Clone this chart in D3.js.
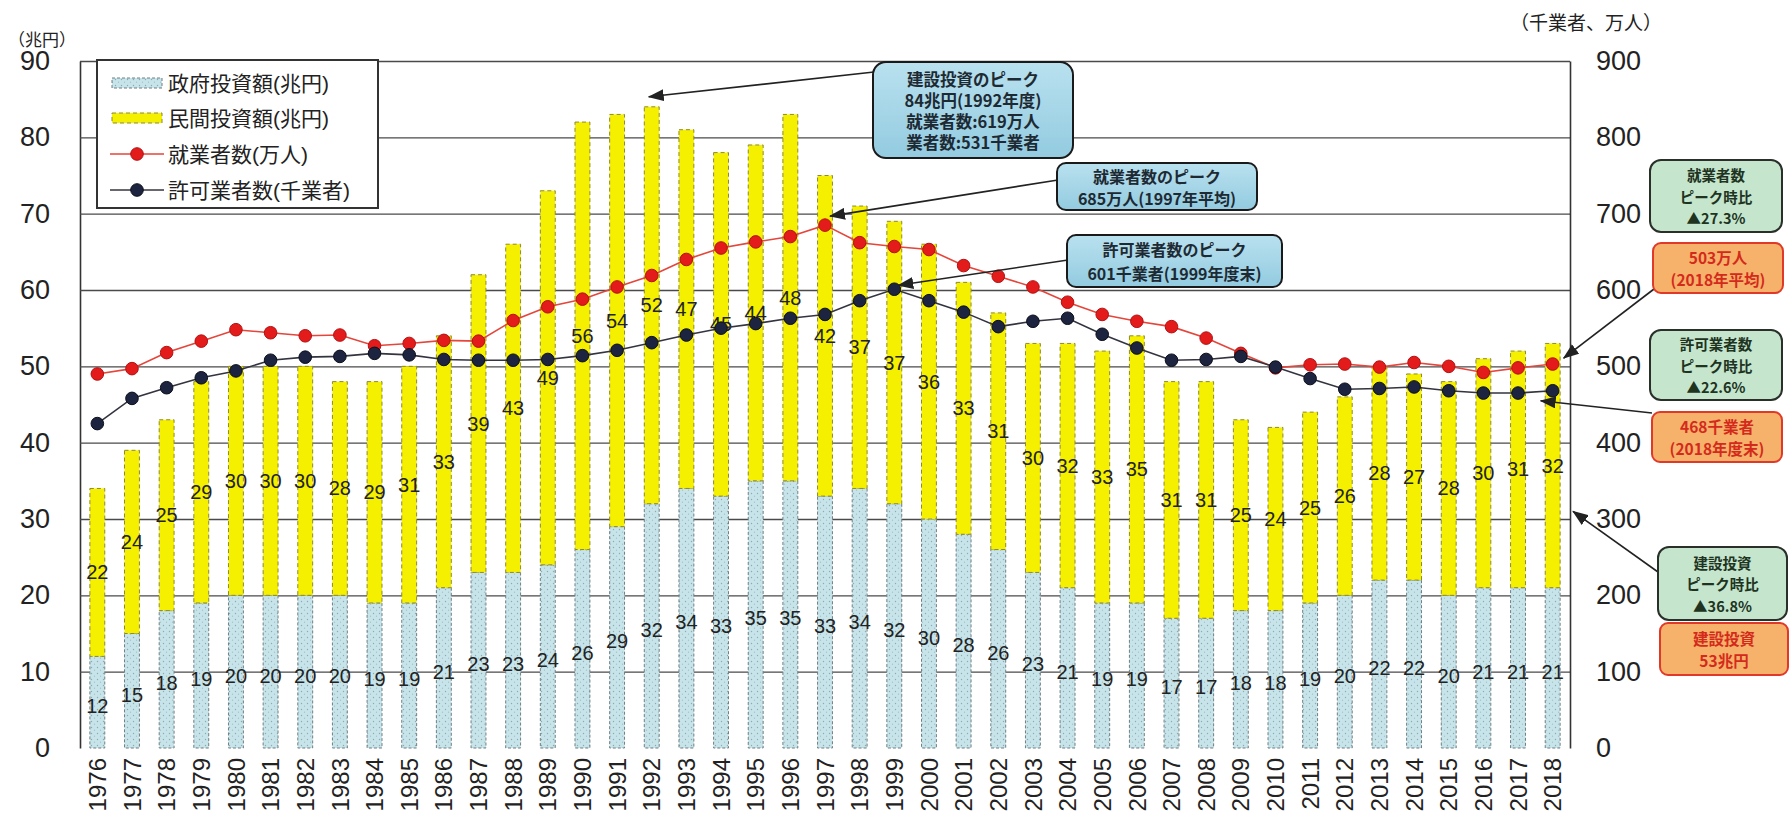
<!DOCTYPE html>
<html><head><meta charset="utf-8">
<script src="https://cdnjs.cloudflare.com/ajax/libs/d3/7.8.5/d3.min.js"></script>
<style>
body{margin:0;background:#fff;}
svg{display:block;font-family:"Liberation Sans","Noto Sans CJK JP",sans-serif;}
</style></head><body>
<svg id="chart" width="1789" height="821"></svg>
<script>
// ---------- data ----------
const years = ["1976","1977","1978","1979","1980","1981","1982","1983","1984","1985","1986","1987","1988","1989","1990","1991","1992","1993","1994","1995","1996","1997","1998","1999","2000","2001","2002","2003","2004","2005","2006","2007","2008","2009","2010","2011","2012","2013","2014","2015","2016","2017","2018"];
const govInvest  = [12,15,18,19,20,20,20,20,19,19,21,23,23,24,26,29,32,34,33,35,35,33,34,32,30,28,26,23,21,19,19,17,17,18,18,19,20,22,22,20,21,21,21];
const privInvest = [22,24,25,29,30,30,30,28,29,31,33,39,43,49,56,54,52,47,45,44,48,42,37,37,36,33,31,30,32,33,35,31,31,25,24,25,26,28,27,28,30,31,32];
const workers    = [490,497,518,533,548,544,540,541,527,530,534,533,560,578,588,604,619,640,655,663,670,685,662,657,653,632,618,604,584,568,559,552,537,517,498,502,503,499,505,500,492,498,503];
const licensed   = [425,458,472,485,494,508,512,513,517,515,509,508,508,509,514,521,531,541,550,556,563,568,586,601,586,571,552,559,563,542,524,508,509,513,499,484,470,471,473,468,465,465,468];
const leftTicks  = [0,10,20,30,40,50,60,70,80,90];
const rightTicks = [0,100,200,300,400,500,600,700,800,900];
const seriesNames = ["政府投資額(兆円)","民間投資額(兆円)","就業者数(万人)","許可業者数(千業者)"];
const leftUnit = "（兆円）";
const rightUnit = "（千業者、万人）";

// ---------- layout ----------
const L = 80, R = 1570, TOP = 61, BOT = 748;
const svg = d3.select("#chart");
const x = d3.scaleBand().domain(years).range([L, R]).paddingInner(0.57).paddingOuter(0.285);
const yL = d3.scaleLinear().domain([0, 90]).range([BOT, TOP]);
const yR = d3.scaleLinear().domain([0, 900]).range([BOT, TOP]);
const cx = d => x(d) + x.bandwidth() / 2;

const defs = svg.append("defs");
const pat = defs.append("pattern").attr("id","govPat").attr("width",6).attr("height",6).attr("patternUnits","userSpaceOnUse");
pat.append("rect").attr("width",6).attr("height",6).attr("fill","#c6e4ea");
pat.append("circle").attr("cx",1.5).attr("cy",1.5).attr("r",0.7).attr("fill","#8fa9ad");
pat.append("circle").attr("cx",4.5).attr("cy",4.2).attr("r",0.6).attr("fill","#a3bcbf");
const grad = defs.append("linearGradient").attr("id","calloutGrad").attr("x1",0).attr("y1",0).attr("x2",0).attr("y2",1);
grad.append("stop").attr("offset","0%").attr("stop-color","#b9e1ef");
grad.append("stop").attr("offset","100%").attr("stop-color","#93cbe0");
defs.append("marker").attr("id","arrow").attr("viewBox","0 0 16 12").attr("refX",15).attr("refY",6)
  .attr("markerWidth",16).attr("markerHeight",12).attr("markerUnits","userSpaceOnUse").attr("orient","auto")
  .append("path").attr("d","M0,0 L16,6 L0,12 z").attr("fill","#222");

// ---------- axes / grid ----------
const gL = svg.append("g").attr("transform",`translate(${L},0)`)
  .call(d3.axisLeft(yL).tickValues(leftTicks).tickSize(-(R-L)).tickSizeOuter(0).tickPadding(30));
gL.select(".domain").attr("stroke","#333").attr("stroke-width",1.6);
gL.selectAll(".tick line").attr("stroke","#4a4a4a").attr("stroke-width",1.3)
  .attr("display", d => d === 0 ? "none" : null);
gL.selectAll(".tick text").attr("font-size",27).attr("fill","#222").attr("font-family","Liberation Sans, Arial, sans-serif");

const gR = svg.append("g").attr("transform",`translate(${R},0)`)
  .call(d3.axisRight(yR).tickValues(rightTicks).tickSize(0).tickSizeOuter(0).tickPadding(26));
gR.select(".domain").attr("stroke","#333").attr("stroke-width",1.6);
gR.selectAll(".tick text").attr("font-size",27).attr("fill","#222").attr("font-family","Liberation Sans, Arial, sans-serif");

const gB = svg.append("g").attr("transform",`translate(0,${BOT})`)
  .call(d3.axisBottom(x).tickSize(0));
gB.select(".domain").remove();
gB.selectAll(".tick text").attr("font-size",24).attr("fill","#222")
  .attr("text-anchor","end").attr("transform","rotate(-90)")
  .attr("x",-10).attr("y",0).attr("dy","0.36em");

svg.append("text").attr("x",8).attr("y",40).attr("font-size",17).attr("fill","#222")
  .attr("dominant-baseline","central").text(leftUnit);
svg.append("text").attr("x",1510).attr("y",23).attr("font-size",19).attr("fill","#222")
  .attr("dominant-baseline","central").text(rightUnit);

// ---------- bars ----------
const bars = svg.append("g");
bars.selectAll("rect.gov").data(years).join("rect").attr("class","gov")
  .attr("x", d => x(d)).attr("width", x.bandwidth())
  .attr("y", (d,i) => yL(govInvest[i])).attr("height", (d,i) => yL(0) - yL(govInvest[i]))
  .attr("fill","url(#govPat)").attr("stroke","#6f7f83").attr("stroke-width",1).attr("stroke-dasharray","3,2");
bars.selectAll("rect.priv").data(years).join("rect").attr("class","priv")
  .attr("x", d => x(d)).attr("width", x.bandwidth())
  .attr("y", (d,i) => yL(govInvest[i] + privInvest[i])).attr("height", (d,i) => yL(govInvest[i]) - yL(govInvest[i] + privInvest[i]))
  .attr("fill","#f5ef00").attr("stroke","#8d8a2c").attr("stroke-width",1).attr("stroke-dasharray","4,3");

// bar labels
const lab = svg.append("g").attr("font-size",20).attr("fill","#222").attr("text-anchor","middle")
  .attr("font-family","Liberation Sans, Arial, sans-serif");
lab.selectAll("text.g").data(years).join("text").attr("class","g")
  .attr("x", d => cx(d)).attr("y", (d,i) => yL(govInvest[i] / 2) + 4).attr("dy","0.35em")
  .text((d,i) => govInvest[i]);
lab.selectAll("text.p").data(years).join("text").attr("class","p")
  .attr("x", d => cx(d)).attr("y", (d,i) => yL(govInvest[i] + privInvest[i] / 2)).attr("dy","0.35em")
  .text((d,i) => privInvest[i]);

// ---------- lines ----------
const lineW = d3.line().x((d,i) => cx(years[i])).y(d => yR(d));
svg.append("path").datum(workers).attr("d", lineW).attr("fill","none").attr("stroke","#e5453a").attr("stroke-width",1.6);
svg.append("path").datum(licensed).attr("d", lineW).attr("fill","none").attr("stroke","#33343f").attr("stroke-width",1.6);
svg.append("g").selectAll("circle").data(workers).join("circle")
  .attr("cx",(d,i) => cx(years[i])).attr("cy", d => yR(d)).attr("r",6.3)
  .attr("fill","#e31b1b").attr("stroke","#b31212").attr("stroke-width",1);
svg.append("g").selectAll("circle").data(licensed).join("circle")
  .attr("cx",(d,i) => cx(years[i])).attr("cy", d => yR(d)).attr("r",6.3)
  .attr("fill","#1d2440").attr("stroke","#0d0f1a").attr("stroke-width",1);

// ---------- legend ----------
const lg = svg.append("g");
lg.append("rect").attr("x",97).attr("y",60).attr("width",281).attr("height",148)
  .attr("fill","#fff").attr("stroke","#333").attr("stroke-width",2);
const rows = [83,118,154,190];
lg.append("rect").attr("x",112).attr("y",rows[0]-5).attr("width",50).attr("height",10)
  .attr("fill","url(#govPat)").attr("stroke","#6f7f83").attr("stroke-dasharray","3,2");
lg.append("rect").attr("x",112).attr("y",rows[1]-5).attr("width",50).attr("height",10)
  .attr("fill","#f5ef00").attr("stroke","#8d8a2c").attr("stroke-dasharray","4,3");
lg.append("line").attr("x1",110).attr("x2",164).attr("y1",rows[2]).attr("y2",rows[2]).attr("stroke","#e5453a").attr("stroke-width",1.6);
lg.append("circle").attr("cx",137).attr("cy",rows[2]).attr("r",6.3).attr("fill","#e31b1b").attr("stroke","#b31212");
lg.append("line").attr("x1",110).attr("x2",164).attr("y1",rows[3]).attr("y2",rows[3]).attr("stroke","#33343f").attr("stroke-width",1.6);
lg.append("circle").attr("cx",137).attr("cy",rows[3]).attr("r",6.3).attr("fill","#1d2440").attr("stroke","#0d0f1a");
seriesNames.forEach((s,i) => {
  lg.append("text").attr("x",168).attr("y",rows[i]).attr("dominant-baseline","central")
    .attr("font-size",21).attr("fill","#222").text(s);
});

// ---------- callouts ----------
function arrow(x1,y1,x2,y2){
  svg.append("line").attr("x1",x1).attr("y1",y1).attr("x2",x2).attr("y2",y2)
    .attr("stroke","#222").attr("stroke-width",1.6).attr("marker-end","url(#arrow)");
}
function box(bx,by,bw,bh,lines,opt){
  const g = svg.append("g");
  g.append("rect").attr("x",bx).attr("y",by).attr("width",bw).attr("height",bh).attr("rx",opt.rx||10)
    .attr("fill",opt.fill).attr("stroke",opt.stroke).attr("stroke-width",2);
  const lh = opt.lh, y0 = by + bh/2 - (lines.length-1)*lh/2;
  lines.forEach((t,i) => g.append("text").attr("x",bx+bw/2).attr("y",y0+i*lh).attr("text-anchor","middle")
    .attr("dominant-baseline","central").attr("font-size",opt.fs).attr("font-weight","bold")
    .attr("fill",opt.color).attr("font-family","Noto Sans CJK JP, sans-serif").text(t));
}

arrow(874,72, cx("1992")-3, yL(84)-10);
arrow(1058,180, cx("1997")+5, yR(685)-9);
arrow(1068,260, cx("1999")+4, yR(601)-4);
box(873,62,200,96,["建設投資のピーク","84兆円(1992年度)","就業者数:619万人","業者数:531千業者"],
  {fill:"url(#calloutGrad)",stroke:"#1a1a1a",color:"#1e2a33",fs:16.5,lh:21,rx:13});
box(1057,163,200,47,["就業者数のピーク","685万人(1997年平均)"],
  {fill:"url(#calloutGrad)",stroke:"#1a1a1a",color:"#1e2a33",fs:16,lh:22,rx:9});
box(1067,235,215,52,["許可業者数のピーク","601千業者(1999年度末)"],
  {fill:"url(#calloutGrad)",stroke:"#1a1a1a",color:"#1e2a33",fs:16,lh:24,rx:9});

// right-side boxes
arrow(1654,289, cx("2018")+11, yR(503)-6);
arrow(1652,413, cx("2018")-12, yR(468)+10);
arrow(1658,572, R+3, yL(31));
const green = {fill:"#c5e6cd",stroke:"#2a2f2a",color:"#20331f",fs:14.5,lh:21.5,rx:11};
const orange = {fill:"#f6b26a",stroke:"#e0392a",color:"#d42a1c",fs:15.5,lh:22.5,rx:8};
box(1650,160,132,72,["就業者数","ピーク時比","▲27.3%"],green);
box(1653,243,130,50,["503万人","(2018年平均)"],orange);
box(1650,330,132,70,["許可業者数","ピーク時比","▲22.6%"],green);
box(1652,412,130,50,["468千業者","(2018年度末)"],orange);
box(1658,547,129,73,["建設投資","ピーク時比","▲36.8%"],green);
box(1660,623,128,52,["建設投資","53兆円"],orange);
</script>
</body></html>
